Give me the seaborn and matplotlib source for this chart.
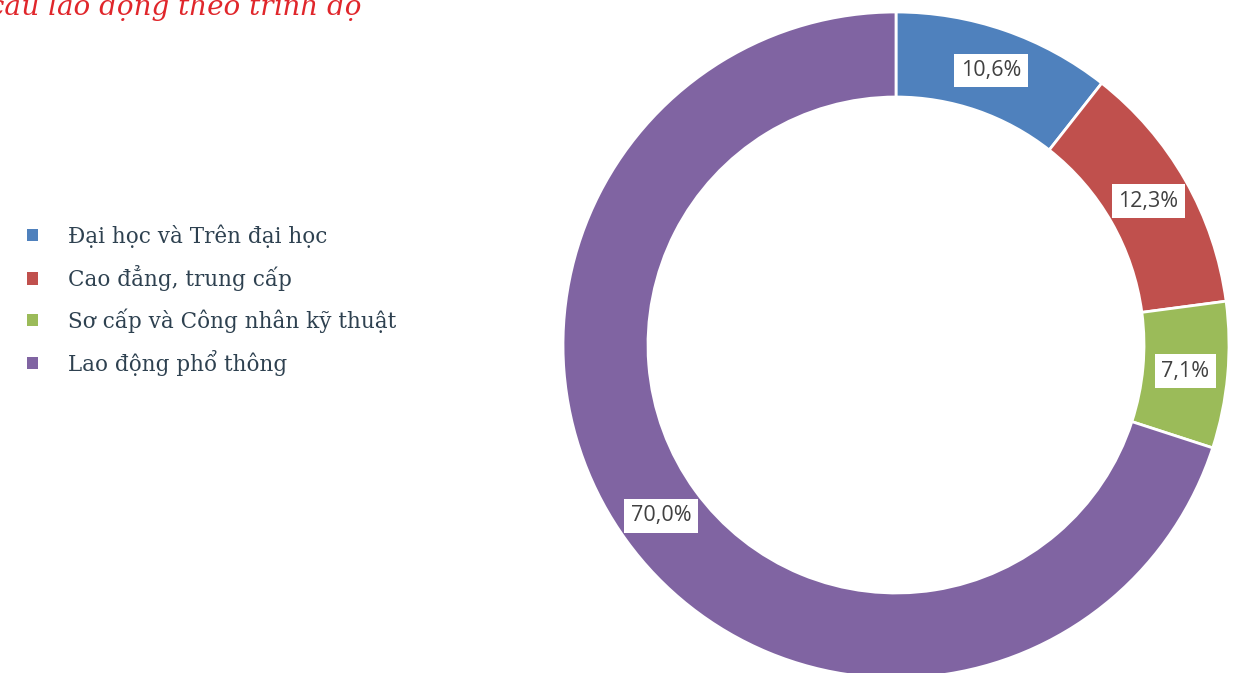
import matplotlib
matplotlib.use("Agg")
import matplotlib.pyplot as plt
import seaborn as sns
import numpy as np
from matplotlib.patches import Patch

categories = ["Đại học và Trên đại học", "Cao đẳng, trung cấp",
              "Sơ cấp và Công nhân kỹ thuật", "Lao động phổ thông"]
values = [10.6, 12.3, 7.1, 70.0]
labels = ["10,6%", "12,3%", "7,1%", "70,0%"]
title = "Cơ cấu lao động theo trình độ"

sns.set_theme(style="white")
plt.rcParams['font.family'] = ['DejaVu Serif', 'DejaVu Sans']
colors = sns.color_palette(["#4F81BD", "#C0504D", "#9BBB59", "#8064A2"])

W, H = 1245, 673
fig = plt.figure(figsize=(W / 100, H / 100), dpi=100)
cx, cy, R = 896, 345, 333
ax = fig.add_axes([(cx - R) / W, (H - cy - R) / H, 2 * R / W, 2 * R / H])
ax.axis("off")

inner = 248 / 333
wedges, _ = ax.pie(values, colors=colors, startangle=90, counterclock=False,
                   radius=1, wedgeprops=dict(width=1 - inner, edgecolor="white", linewidth=2),
                   frame=False)
for w in wedges:
    w.set_clip_on(False)
ax.set_xlim(-1, 1)
ax.set_ylim(-1, 1)

rmid = (1 + inner) / 2
for w, lab in zip(wedges, labels):
    ang = np.deg2rad((w.theta1 + w.theta2) / 2)
    ax.text(rmid * np.cos(ang), rmid * np.sin(ang), lab, ha="center", va="center",
            fontsize=15.5, color="#404040", family="Open Sans",
            bbox=dict(boxstyle="square,pad=0.3", fc="white", ec="none"))

handles = [Patch(facecolor=c, edgecolor="none") for c in colors]
fig.legend(handles, categories, loc="upper left", bbox_to_anchor=(8 / W, 1 - 205 / H),
           frameon=False, fontsize=15.5, handlelength=0.5, handleheight=0.5,
           handletextpad=1.37, labelspacing=0.8, labelcolor="#2E4150")

fig.text(362 / W, 1 - 15 / H, title, ha="right", va="baseline", fontsize=20,
         style="italic", color="#E0262B", family="DejaVu Serif")

fig.savefig("out.png", dpi=100)
